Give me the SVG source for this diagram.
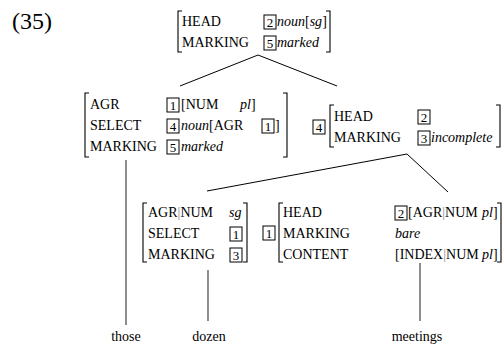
<svg xmlns="http://www.w3.org/2000/svg" width="504" height="345" viewBox="0 0 504 345">
<style>
text{font-family:"Liberation Serif","Times New Roman",serif;font-size:14px;fill:#000}
.it{font-style:italic}
.num{font-size:24px}
.tag{font-size:13px;text-anchor:middle}
.box{fill:none;stroke:#000;stroke-width:1}
.br{fill:none;stroke:#000;stroke-width:1.1}
.bar{fill:#888}
.edge{stroke:#000;stroke-width:1;fill:none}
.stem{stroke:#444;stroke-width:1.2;fill:none}
.w{text-anchor:middle}
</style>
<text class="num" x="12" y="29">(35)</text>

<g id="connectors">
<line class="edge" x1="258" y1="55" x2="180" y2="86"/>
<line class="edge" x1="258" y1="55" x2="337" y2="86"/>
<line class="edge" x1="407" y1="154" x2="207" y2="191"/>
<line class="edge" x1="407" y1="154" x2="448" y2="192"/>
<line class="stem" x1="126" y1="160" x2="126" y2="325"/>
<line class="stem" x1="208" y1="270" x2="208" y2="321"/>
<line class="stem" x1="420" y1="263" x2="420" y2="321"/>
</g>

<g id="n-top">
<path class="br" d="M182,11 H178 V52 H182"/>
<path class="br" d="M326,11 H330 V52 H326"/>
<text x="182" y="26">HEAD</text>
<rect class="box" x="264" y="15" width="12" height="14"/><text class="tag" x="270" y="27">2</text>
<text x="277" y="26"><tspan class="it">noun</tspan>[<tspan class="it">sg</tspan>]</text>
<text x="182" y="47">MARKING</text>
<rect class="box" x="264" y="36" width="12" height="14"/><text class="tag" x="270" y="48">5</text>
<text class="it" x="277" y="47">marked</text>
</g>

<g id="n-left">
<path class="br" d="M89,93 H85 V157 H89"/>
<path class="br" d="M283,93 H287 V157 H283"/>
<text x="90" y="109">AGR</text>
<rect class="box" x="167" y="98" width="12" height="14"/><text class="tag" x="173" y="110">1</text>
<text x="181" y="109">[NUM</text>
<text x="240" y="109"><tspan class="it">pl</tspan>]</text>
<text x="90" y="130">SELECT</text>
<rect class="box" x="167" y="119" width="12" height="14"/><text class="tag" x="173" y="131">4</text>
<text x="181" y="130"><tspan class="it">noun</tspan>[AGR</text>
<rect class="box" x="262" y="119" width="12" height="14"/><text class="tag" x="268" y="131">1</text>
<text x="275" y="130">]</text>
<text x="90" y="151">MARKING</text>
<rect class="box" x="167" y="140" width="12" height="14"/><text class="tag" x="173" y="152">5</text>
<text class="it" x="181" y="151">marked</text>
</g>

<g id="n-right">
<rect class="box" x="313" y="120" width="12" height="14"/><text class="tag" x="319" y="132">4</text>
<path class="br" d="M334,105 H330 V147 H334"/>
<path class="br" d="M496,105 H500 V147 H496"/>
<text x="334" y="121">HEAD</text>
<rect class="box" x="418" y="110" width="12" height="14"/><text class="tag" x="424" y="122">2</text>
<text x="334" y="142">MARKING</text>
<rect class="box" x="418" y="131" width="12" height="14"/><text class="tag" x="424" y="143">3</text>
<text class="it" x="431" y="142">incomplete</text>
</g>

<g id="n-dozen-avm">
<path class="br" d="M147,203 H143 V262 H147"/>
<path class="br" d="M243,203 H247 V262 H243"/>
<text x="148" y="217">AGR<tspan class="bar">|</tspan>NUM</text>
<text class="it" x="229" y="217">sg</text>
<text x="148" y="238">SELECT</text>
<rect class="box" x="230" y="227" width="12" height="14"/><text class="tag" x="236" y="239">1</text>
<text x="148" y="259">MARKING</text>
<rect class="box" x="230" y="248" width="12" height="14"/><text class="tag" x="236" y="260">3</text>
</g>

<g id="n-meetings-avm">
<rect class="box" x="263" y="226" width="12" height="14"/><text class="tag" x="269" y="238">1</text>
<path class="br" d="M283,203 H279 V262 H283"/>
<path class="br" d="M497,203 H501 V262 H497"/>
<text x="283" y="217">HEAD</text>
<rect class="box" x="395" y="206" width="12" height="14"/><text class="tag" x="401" y="218">2</text>
<text x="408" y="217">[AGR<tspan class="bar">|</tspan>NUM</text>
<text x="482" y="217"><tspan class="it">pl</tspan>]</text>
<text x="283" y="238">MARKING</text>
<text class="it" x="395" y="238">bare</text>
<text x="283" y="259">CONTENT</text>
<text x="395" y="259">[INDEX<tspan class="bar">|</tspan>NUM</text>
<text x="482" y="259"><tspan class="it">pl</tspan>]</text>
</g>

<g id="n-those"><text class="w" x="126" y="341">those</text></g>
<g id="n-dozen"><text class="w" x="209" y="341">dozen</text></g>
<g id="n-meetings"><text class="w" x="417" y="341">meetings</text></g>
</svg>
